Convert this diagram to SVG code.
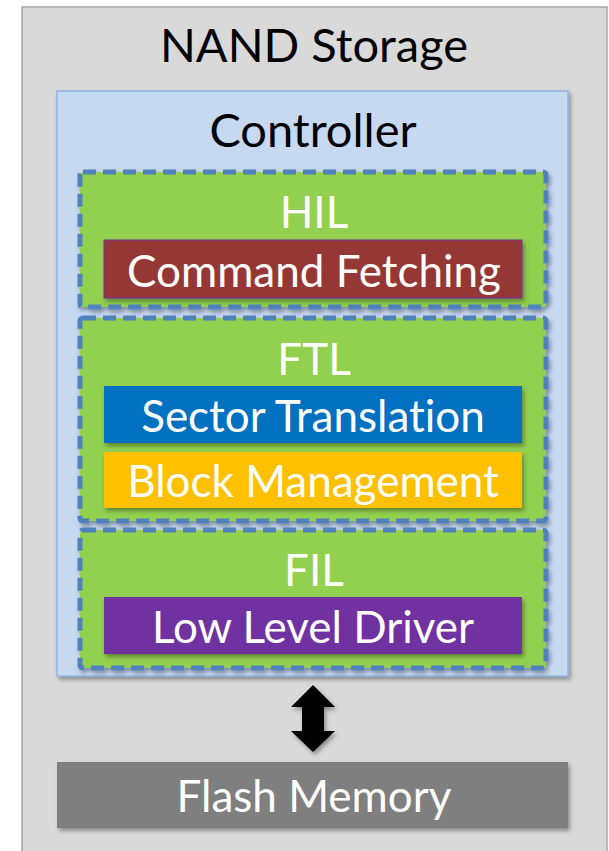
<svg xmlns="http://www.w3.org/2000/svg" width="609" height="851" viewBox="0 0 609 851">
<defs>
<filter id="sh" x="-10%" y="-10%" width="130%" height="130%">
<feDropShadow dx="2" dy="3" stdDeviation="2" flood-color="#000" flood-opacity="0.35"/>
</filter>
</defs>
<style>
text{font-family:Lato,"Open Sans","Liberation Sans",sans-serif;text-anchor:middle;font-variant-ligatures:none}
.title{font-size:47px;fill:#000}
.lbl{font-size:44px;fill:#fff}
.layer{fill:#92d050;stroke:#4f81bd;stroke-width:5;stroke-dasharray:13 7}
.mod{stroke:#7030a0;stroke-width:1}
</style>
<g id="nand-storage">
<rect x="22" y="7" width="585" height="860" fill="#d9d9d9" stroke="#a6a6a6" stroke-width="1.5"/>
<text class="title" x="314" y="62">NAND Storage</text>
</g>
<g id="controller">
<rect x="57" y="91" width="511" height="585" fill="#c6d9f1" stroke="#8eb4e3" stroke-width="1.5" filter="url(#sh)"/>
<text class="title" x="313" y="147">Controller</text>
</g>
<g id="hil">
<rect class="layer" x="80" y="172" width="466" height="135" rx="3" filter="url(#sh)"/>
<text class="lbl" x="314" y="228">HIL</text>
</g>
<g id="command-fetching">
<rect class="mod" x="104" y="240" width="418" height="58" fill="#953735" filter="url(#sh)"/>
<text class="lbl" x="314" y="287">Command Fetching</text>
</g>
<g id="ftl">
<rect class="layer" x="80" y="318" width="466" height="203" rx="3" filter="url(#sh)"/>
<text class="lbl" x="314" y="375">FTL</text>
</g>
<g id="sector-translation">
<rect x="104" y="386" width="418" height="57" fill="#0070c0" filter="url(#sh)"/>
<text class="lbl" x="313" y="432">Sector Translation</text>
</g>
<g id="block-management">
<rect x="104" y="452" width="418" height="56" fill="#ffc000" filter="url(#sh)"/>
<text class="lbl" x="313" y="497">Block Management</text>
</g>
<g id="fil">
<rect class="layer" x="80" y="530" width="466" height="138" rx="3" filter="url(#sh)"/>
<text class="lbl" x="314" y="586">FIL</text>
</g>
<g id="low-level-driver">
<rect x="104" y="597" width="418" height="57" fill="#7030a0" filter="url(#sh)"/>
<text class="lbl" x="313" y="643">Low Level Driver</text>
</g>
<g id="connectors">
<polygon points="313,685 335,707 324,707 324,731 335,731 313,752 291,731 302,731 302,707 291,707" fill="#000" filter="url(#sh)"/>
</g>
<g id="flash-memory">
<rect x="57" y="762" width="511" height="66" fill="#7f7f7f" filter="url(#sh)"/>
<text class="lbl" x="314" y="812">Flash Memory</text>
</g>
</svg>
